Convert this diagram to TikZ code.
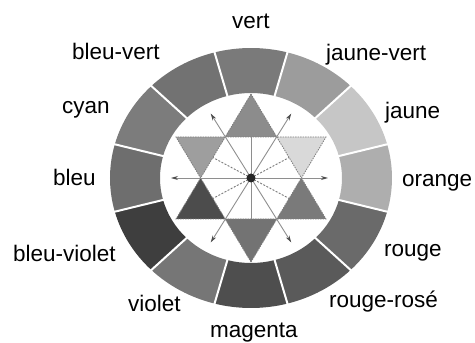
\documentclass[tikz,border=0pt]{standalone}
\usepackage{fontspec}
\setmainfont{Liberation Sans}
\usetikzlibrary{arrows.meta,calc}
\definecolor{rvert}{HTML}{7A7A7A}
\definecolor{rjaunevert}{HTML}{9C9C9C}
\definecolor{rjaune}{HTML}{C6C6C6}
\definecolor{rorange}{HTML}{AEAEAE}
\definecolor{rrouge}{HTML}{6A6A6A}
\definecolor{rrougerose}{HTML}{5A5A5A}
\definecolor{rmagenta}{HTML}{4E4E4E}
\definecolor{rviolet}{HTML}{767676}
\definecolor{rbleuviolet}{HTML}{3E3E3E}
\definecolor{rbleu}{HTML}{6E6E6E}
\definecolor{rcyan}{HTML}{7C7C7C}
\definecolor{rbleuvert}{HTML}{727272}
\definecolor{spokegray}{HTML}{8E8E8E}
\definecolor{hintgray}{HTML}{7A7A7A}
\tikzset{nom/.style={font=\fontsize{22.5}{27}\selectfont,inner sep=0pt,anchor=base west},
  gap/.style={draw=white,line width=2pt},
  rim/.style={draw=black!50,line width=0.8pt,dash pattern=on 1.5pt off 1pt},
  spoke/.style={draw=spokegray,line width=0.9pt},
  ray/.style={spoke,-{Stealth[length=7pt,width=4pt,color=black!70]}},
  hint/.style={draw=hintgray,line width=0.9pt,dash pattern=on 2pt off 1.5pt}}
\begin{document}
\begin{tikzpicture}[x=1pt,y=1pt]
\useasboundingbox (-251,-165) rectangle (224,178);
% couronne de 12 couleurs
\foreach \a/\c in {90/rvert,60/rjaunevert,30/rjaune,0/rorange,-30/rrouge,-60/rrougerose,
  -90/rmagenta,-120/rviolet,-150/rbleuviolet,180/rbleu,150/rcyan,120/rbleuvert}
  \fill[\c] ({\a-15}:141 and 130) arc[start angle=\a-15,end angle=\a+15,x radius=141,y radius=130]
    -- ({\a+15}:91 and 85) arc[start angle=\a+15,end angle=\a-15,x radius=91,y radius=85] -- cycle;
\foreach \a in {15,45,...,345} \draw[gap] (\a:89 and 83) -- (\a:143 and 132);
% etoile
\coordinate (c) at (0,0);
\coordinate (ua) at (0,84); \coordinate (ul) at (-75,-41); \coordinate (ur) at (75,-41);
\coordinate (da) at (0,-84); \coordinate (dl) at (-75,41); \coordinate (dr) at (75,41);
\coordinate (h0) at (50.4,0); \coordinate (h1) at (25.8,41); \coordinate (h2) at (-25.8,41);
\coordinate (h3) at (-50.4,0); \coordinate (h4) at (-25.8,-41); \coordinate (h5) at (25.8,-41);
\coordinate (ht) at (0,41); \coordinate (hb) at (0,-41);
\fill[black!45] (ua)--(h1)--(h2)--cycle;
\fill[black!15] (dr)--(h0)--(h1)--cycle;
\fill[black!52] (ur)--(h5)--(h0)--cycle;
\fill[black!55] (da)--(h4)--(h5)--cycle;
\fill[black!70] (ul)--(h3)--(h4)--cycle;
\fill[black!38] (dl)--(h2)--(h3)--cycle;
\draw[rim] (ua)--(ul)--(ur)--cycle (da)--(dl)--(dr)--cycle;
\draw[spoke] (ht)--(hb);
\foreach \a/\r in {0/77,58/76,122/76,180/80,238/76,302/76} \draw[ray] (c)--(\a:\r);
\foreach \p/\q in {h0/h1,h2/h3,h3/h4,h5/h0} \draw[hint] (c)--($(\p)!0.5!(\q)$);
\fill[black!85] (c) circle (4.5);
% noms des couleurs
\node[nom] (n-vert) at (-19,149) {vert};
\node[nom] (n-jaunevert) at (75,117) {jaune-vert};
\node[nom] (n-jaune) at (134,59) {jaune};
\node[nom] (n-orange) at (151,-9) {orange};
\node[nom] (n-rouge) at (133,-79) {rouge};
\node[nom] (n-rougerose) at (78,-130) {rouge-rosé};
\node[nom] (n-magenta) at (-41,-160) {magenta};
\node[nom] (n-violet) at (-123,-134) {violet};
\node[nom] (n-bleuviolet) at (-238,-84) {bleu-violet};
\node[nom] (n-bleu) at (-198,-8) {bleu};
\node[nom] (n-cyan) at (-189,64) {cyan};
\node[nom] (n-bleuvert) at (-179,118) {bleu-vert};
\end{tikzpicture}
\end{document}
